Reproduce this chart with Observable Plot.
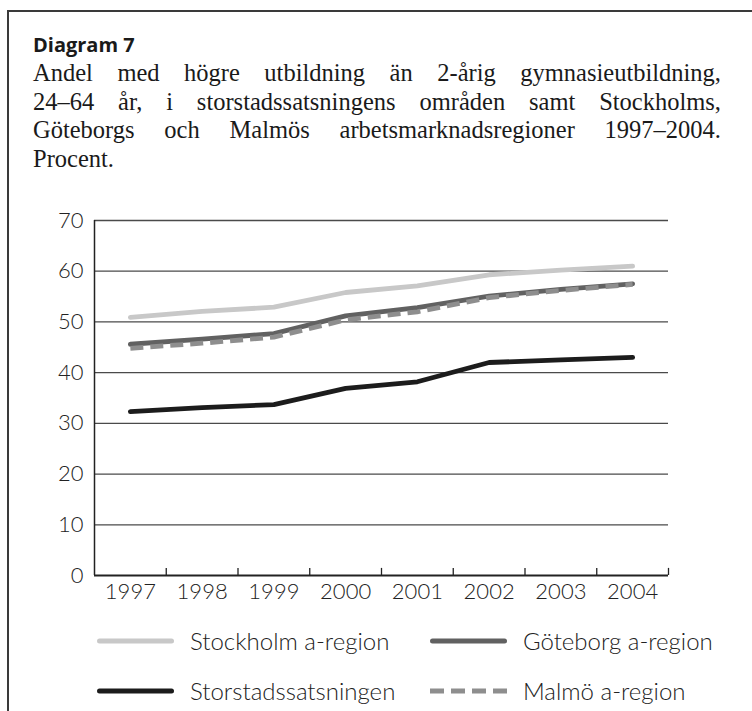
<!DOCTYPE html>
<html>
<head>
<meta charset="utf-8">
<script src="https://cdn.jsdelivr.net/npm/d3@7"></script>
<script src="https://cdn.jsdelivr.net/npm/@observablehq/plot@0.6"></script>
<style>
  html, body { margin: 0; padding: 0; width: 752px; height: 711px; overflow: hidden; background: #fff; }
  #frame { position: absolute; left: 7px; top: 10px; width: 900px; height: 900px; border: 2px solid #3a3a3a; box-sizing: border-box; }
  #title { position: absolute; left: 33px; top: 31px; font-family: "Open Sans", "DejaVu Sans", sans-serif; font-weight: 700; font-size: 20px; color: #1a1a1a; }
  #subtitle { position: absolute; left: 33px; top: 59px; width: 688px; font-family: "Liberation Serif", serif; font-size: 24.5px; line-height: 28.7px; color: #1a1a1a; }
  #subtitle div { text-align: justify; text-align-last: justify; white-space: nowrap; }
  #subtitle div.last { text-align-last: left; }
  #chart { position: absolute; left: 0; top: 200px; }
  .legend { position: absolute; font-family: Lato, "Open Sans", sans-serif; font-weight: 300; font-size: 24px; color: #222; display: flex; align-items: center; }
  .legend svg { margin-right: 16px; }
</style>
</head>
<body>
<div id="frame"></div>
<div id="title">Diagram 7</div>
<div id="subtitle">
  <div>Andel med högre utbildning än 2-årig gymnasieutbildning,</div>
  <div>24–64 år, i storstadssatsningens områden samt Stockholms,</div>
  <div>Göteborgs och Malmös arbetsmarknadsregioner 1997–2004.</div>
  <div class="last">Procent.</div>
</div>
<div id="chart"></div>
<div id="legend"></div>
<script>
const years = [1997, 1998, 1999, 2000, 2001, 2002, 2003, 2004];
const stockholm = [50.9, 52.1, 52.9, 55.8, 57.1, 59.3, 60.2, 61.0];
const goteborg = [45.6, 46.6, 47.7, 51.2, 52.8, 55.1, 56.4, 57.5];
const malmo = [44.8, 45.8, 47.0, 50.4, 52.0, 54.8, 56.2, 57.4];
const storstad = [32.3, 33.1, 33.7, 36.9, 38.2, 42.0, 42.5, 43.0];
const yTicks = [0, 10, 20, 30, 40, 50, 60, 70];

const seriesNames = ["Stockholm a-region", "Göteborg a-region", "Storstadssatsningen", "Malmö a-region"];
const seriesStyle = {
  "Stockholm a-region": {stroke: "#c8c8c8", dash: null},
  "Göteborg a-region": {stroke: "#616161", dash: null},
  "Storstadssatsningen": {stroke: "#1c1c1c", dash: null},
  "Malmö a-region": {stroke: "#8e8e8e", dash: "13,7"}
};
const seriesValues = {
  "Stockholm a-region": stockholm,
  "Göteborg a-region": goteborg,
  "Storstadssatsningen": storstad,
  "Malmö a-region": malmo
};
const drawOrder = ["Stockholm a-region", "Storstadssatsningen", "Göteborg a-region", "Malmö a-region"];

const rows = name => years.map((year, i) => ({year, value: seriesValues[name][i]}));
const boundaries = years.map(y => y + 0.5);

const lineMarks = drawOrder.map(name => Plot.line(rows(name), {
  x: "year", y: "value",
  stroke: seriesStyle[name].stroke,
  strokeWidth: 4.8,
  strokeLinecap: seriesStyle[name].dash ? "butt" : "round",
  strokeLinejoin: "round",
  strokeDasharray: seriesStyle[name].dash
}));

const chart = Plot.plot({
  width: 752,
  height: 410,
  marginLeft: 94,
  marginRight: 84,
  marginTop: 20,
  marginBottom: 35,
  style: {fontFamily: "Lato, 'Open Sans', sans-serif", fontSize: "22px", fontWeight: 300, color: "#222", background: "transparent"},
  x: {domain: [years[0] - 0.5, years[years.length - 1] + 0.5], axis: null, label: null},
  y: {domain: [0, 70], axis: null, label: null},
  marks: [
    Plot.ruleY(yTicks.filter(d => d > 0), {stroke: "#4a4a4a", strokeWidth: 1.3, strokeOpacity: 1}),
    Plot.ruleX(boundaries, {y1: 0, y2: 1.4, stroke: "#222", strokeWidth: 1.3}),
    Plot.ruleX([years[0] - 0.5], {y1: 0, y2: 70, stroke: "#222", strokeWidth: 1.5}),
    Plot.ruleY([0], {stroke: "#222", strokeWidth: 1.8}),
    Plot.axisY(yTicks, {tickSize: 0, tickPadding: 11, fontSize: 22, fontWeight: 300, fill: "#222", label: null}),
    Plot.axisX(years, {tickSize: 0, tickPadding: 8, fontSize: 22, fontWeight: 300, fill: "#222", label: null, tickFormat: d => String(d)}),
    ...lineMarks
  ]
});
document.getElementById("chart").appendChild(chart);

// legend
const legendPos = [
  {name: "Stockholm a-region", left: 97, top: 626},
  {name: "Göteborg a-region", left: 430, top: 626},
  {name: "Storstadssatsningen", left: 97, top: 676},
  {name: "Malmö a-region", left: 430, top: 676}
];
const legend = document.getElementById("legend");
legendPos.forEach(({name, left, top}) => {
  const st = seriesStyle[name];
  const div = document.createElement("div");
  div.className = "legend";
  div.style.left = left + "px";
  div.style.top = top + "px";
  const sw = d3.create("svg").attr("width", 77).attr("height", 28);
  sw.append("line").attr("x1", st.dash ? 0 : 2.5).attr("x2", st.dash ? 77 : 74.5).attr("y1", 14).attr("y2", 14)
    .attr("stroke", st.stroke).attr("stroke-width", 5)
    .attr("stroke-linecap", st.dash ? "butt" : "round")
    .attr("stroke-dasharray", st.dash ? "14,7" : null);
  div.appendChild(sw.node());
  const span = document.createElement("span");
  span.textContent = name;
  div.appendChild(span);
  legend.appendChild(div);
});
</script>
</body>
</html>
